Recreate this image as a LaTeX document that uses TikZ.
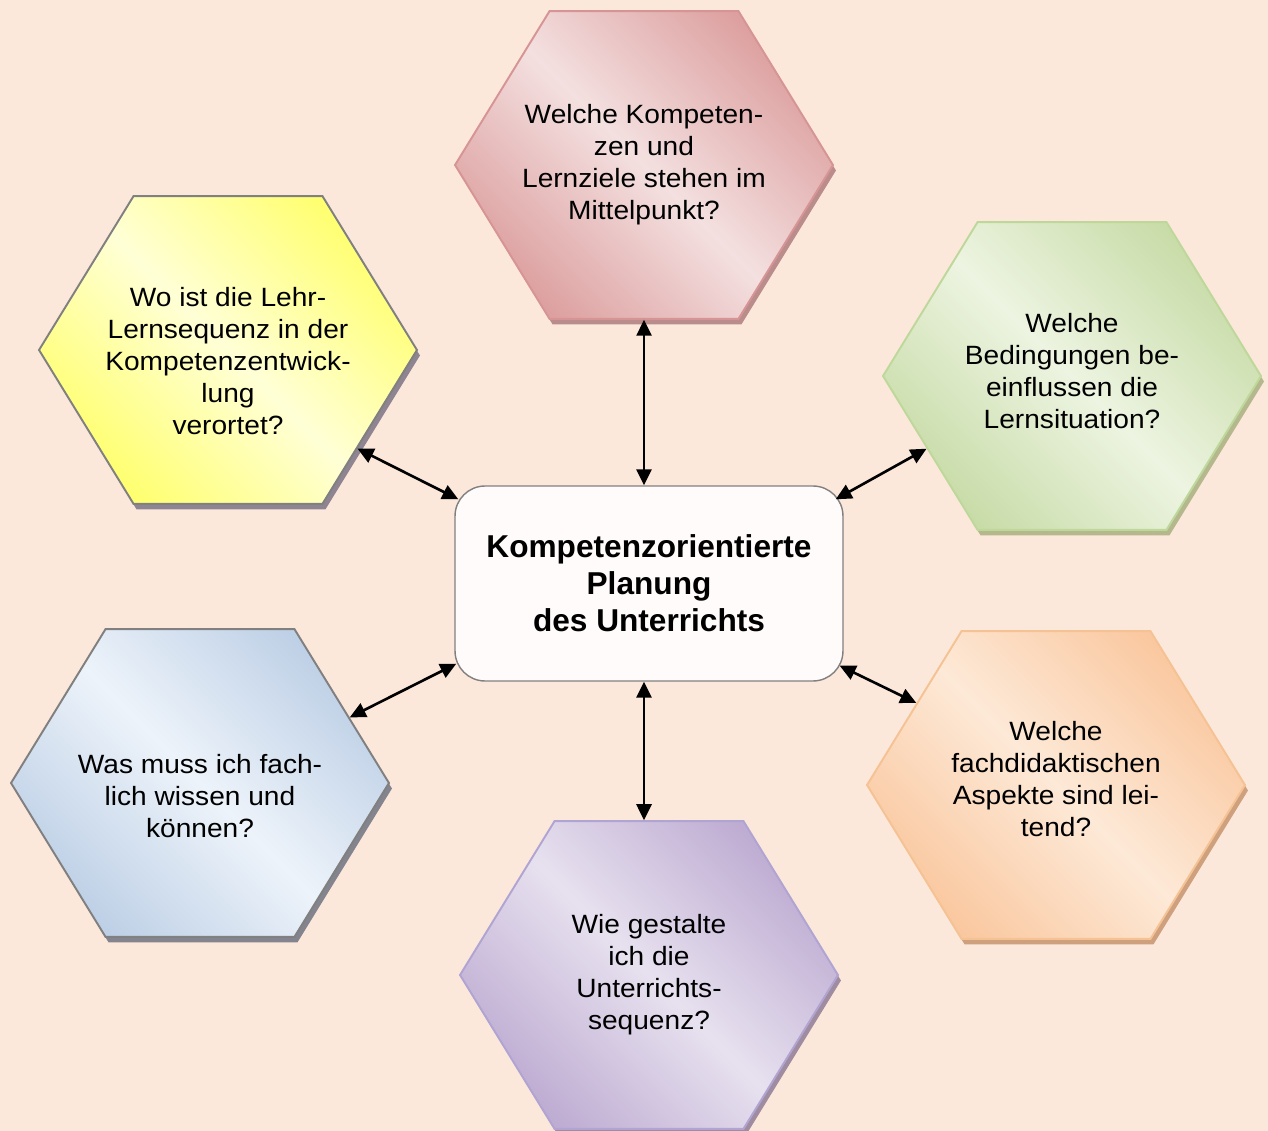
\documentclass[tikz,border=0pt]{standalone}
\usepackage{fontspec}
\setmainfont{Liberation Sans}
\usetikzlibrary{shapes.geometric,shadows,arrows.meta,calc}

\definecolor{peach}{RGB}{252,232,218}
\definecolor{rdark}{RGB}{221,160,160}\definecolor{rlight}{RGB}{244,224,224}
\definecolor{rline}{RGB}{214,148,148}\definecolor{rshade}{RGB}{186,140,140}
\definecolor{ydark}{RGB}{255,255,112}\definecolor{ylight}{RGB}{255,255,214}
\definecolor{yline}{RGB}{128,128,128}\definecolor{yshade}{RGB}{142,132,146}
\definecolor{gdark}{RGB}{200,220,168}\definecolor{glight}{RGB}{237,244,225}
\definecolor{gline}{RGB}{190,216,156}\definecolor{gshade}{RGB}{180,184,140}
\definecolor{bdark}{RGB}{190,208,230}\definecolor{blight}{RGB}{237,243,250}
\definecolor{bline}{RGB}{128,128,128}\definecolor{bshade}{RGB}{132,132,142}
\definecolor{odark}{RGB}{250,200,160}\definecolor{olight}{RGB}{253,233,215}
\definecolor{oline}{RGB}{245,194,148}\definecolor{oshade}{RGB}{206,160,126}
\definecolor{pdark}{RGB}{190,172,210}\definecolor{plight}{RGB}{231,225,239}
\definecolor{pline}{RGB}{176,164,210}\definecolor{pshade}{RGB}{160,140,160}
\definecolor{boxline}{RGB}{128,128,128}\definecolor{boxfill}{RGB}{255,251,250}

\begin{document}
\begin{tikzpicture}[x=0.02cm,y=-0.02cm]
  \tikzset{Hexa/.style n args={4}{regular polygon, regular polygon sides=6,
      minimum size=7.56cm, inner sep=-14pt, yscale=0.94,
      top color=#1, bottom color=#1, middle color=#2, shading angle=-45,
      draw=#3, line width=1.1pt,
      drop shadow={shadow xshift=0.06cm, shadow yshift=-0.11cm, fill=#4, opacity=1},
      align=center, font=\fontsize{16}{19.4}\selectfont},
    Plan/.style={draw=boxline, fill=boxfill, line width=0.8pt, rounded corners=0.6cm,
      minimum width=7.76cm, minimum height=3.9cm, align=center,
      font=\fontsize{18}{21}\selectfont\bfseries},
    Link/.style={<->, >={Triangle[length=0.32cm,width=0.3cm]}, line width=1.5pt}}
  \useasboundingbox (0,0) rectangle (1268,1131);
  \fill[peach] (0,0) rectangle (1268,1131);

  % the six questions
  \node[Hexa={rdark}{rlight}{rline}{rshade}] (Ziele) at (644,165)
    {Welche Kompeten-\\zen und\\Lernziele stehen im\\Mittelpunkt?};
  \node[Hexa={ydark}{ylight}{yline}{yshade}] (Lehr) at (228,350)
    {\rule{0pt}{25pt}Wo ist die Lehr-\\Lernsequenz in der\\Kompetenzentwick-\\lung\\verortet?};
  \node[Hexa={gdark}{glight}{gline}{gshade}] (Bedingung) at (1072,376)
    {Welche\\Bedingungen be-\\einflussen die\\Lernsituation?\rule[-6pt]{0pt}{6pt}};
  \node[Hexa={bdark}{blight}{bline}{bshade}] (Fach) at (200,783)
    {\rule{0pt}{27pt}Was muss ich fach-\\lich wissen und\\können?};
  \node[Hexa={odark}{olight}{oline}{oshade}] (Didaktik) at (1056,785)
    {Welche\\fachdidaktischen\\Aspekte sind lei-\\tend?\rule[-7pt]{0pt}{7pt}};
  \node[Hexa={pdark}{plight}{pline}{pshade}] (Gestalt) at (649,975)
    {Wie gestalte\\ich die\\Unterrichts-\\sequenz?};

  % centre
  \node[Plan] (Planung) at (649,583.5)
    {Kompetenzorientierte\\Planung\\des Unterrichts};

  \draw[Link] (Ziele.south) -- (Ziele.south |- Planung.north);
  \draw[Link] (Lehr.-39) -- ($(Planung.north west)+(4,14)$);
  \draw[Link] (Bedingung.208) -- ($(Planung.north east)+(-8,14)$);
  \draw[Link] (Fach.25) -- ($(Planung.south west)+(2,-18)$);
  \draw[Link] (Didaktik.148) -- ($(Planung.south east)+(-4,-16)$);
  \draw[Link] (Planung.south -| Ziele) -- (Gestalt.north -| Ziele);
\end{tikzpicture}
\end{document}
